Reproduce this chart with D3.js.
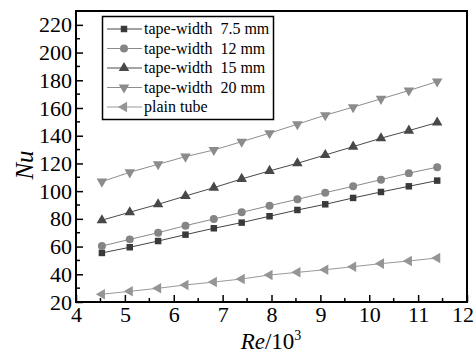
<!DOCTYPE html>
<html><head><meta charset="utf-8">
<script src="https://cdn.jsdelivr.net/npm/d3@7"></script>
<style>body{margin:0;background:#fff}svg{display:block}svg text{font-family:"Liberation Serif","DejaVu Serif",serif}</style>
</head><body>
<script>
const reValues = [4.53,5.10,5.68,6.24,6.82,7.39,7.96,8.53,9.10,9.67,10.24,10.81,11.39];
const seriesNames = ["tape-width  7.5 mm","tape-width  12 mm","tape-width  15 mm","tape-width  20 mm","plain tube"];
const nu75 = [55.4,59.5,64.0,68.6,73.2,77.3,81.9,86.4,90.5,95.1,99.4,103.5,107.6];
const nu12 = [60.4,65.2,70.0,75.1,79.9,84.7,89.5,94.1,98.9,103.5,108.3,113.0,117.3];
const nu15 = [79.0,84.8,90.5,96.5,102.5,108.8,114.6,120.1,126.1,132.1,138.2,143.7,149.5];
const nu20 = [106.9,113.6,119.4,124.9,129.7,135.7,141.8,148.3,154.8,160.6,166.6,172.6,179.1];
const nuPlain = [25.6,27.7,29.9,32.3,34.4,36.6,39.5,41.4,43.3,45.5,47.7,49.6,51.8];
const xTicks = [4,5,6,7,8,9,10,11,12];
const yTicks = [20,40,60,80,100,120,140,160,180,200,220];

const W=476,H=353;
const m={l:76,r:9,t:11,b:51};
const svg=d3.select("body").append("svg").attr("width",W).attr("height",H);
const x=d3.scaleLinear().domain([4,12]).range([m.l,W-m.r]);
const y=d3.scaleLinear().domain([20,230]).range([H-m.b,m.t]);

const styles=[
 {data:nu75,color:"#3a3a3a",line:"#444",sym:d3.symbolSquare,size:42,rot:0},
 {data:nu12,color:"#858585",line:"#8a8a8a",sym:d3.symbolCircle,size:50,rot:0},
 {data:nu15,color:"#484848",line:"#4a4a4a",sym:d3.symbolTriangle,size:48,rot:0},
 {data:nu20,color:"#8c8c8c",line:"#8e8e8e",sym:d3.symbolTriangle,size:48,rot:180},
 {data:nuPlain,color:"#959595",line:"#999",sym:d3.symbolTriangle,size:48,rot:-90}
];

const line=d3.line().x((d,i)=>x(reValues[i])).y(d=>y(d));
styles.forEach(s=>{
  svg.append("path").attr("d",line(s.data)).attr("fill","none").attr("stroke",s.line).attr("stroke-width",1);
  svg.append("g").selectAll("path").data(s.data).join("path")
    .attr("d",d3.symbol().type(s.sym).size(s.size))
    .attr("transform",(d,i)=>`translate(${x(reValues[i])},${y(d)}) rotate(${s.rot})`)
    .attr("fill",s.color);
});

// frame
svg.append("rect").attr("x",m.l).attr("y",m.t).attr("width",W-m.r-m.l).attr("height",H-m.b-m.t)
  .attr("fill","none").attr("stroke","#000").attr("stroke-width",2);

// x axis
const xAxis=svg.append("g").attr("transform",`translate(0,${H-m.b})`)
  .call(d3.axisBottom(x).tickValues(xTicks).tickSizeInner(-7).tickSizeOuter(0).tickPadding(4).tickFormat(d3.format("d")));
xAxis.select(".domain").remove();
xAxis.selectAll("line").attr("stroke","#000").attr("stroke-width",1.5);
xAxis.selectAll("text").attr("font-size",22).attr("fill","#000")
  .attr("text-anchor",d=>d===12?"end":"middle").attr("dx",d=>d===12?"0.3em":null);
xAxis.selectAll(".minor").data(xTicks.slice(0,-1).map(v=>v+0.5)).join("line")
  .attr("x1",d=>x(d)).attr("x2",d=>x(d)).attr("y1",0).attr("y2",-4).attr("stroke","#000").attr("stroke-width",1.5);

// y axis
const yAxis=svg.append("g").attr("transform",`translate(${m.l},0)`)
  .call(d3.axisLeft(y).tickValues(yTicks).tickSizeInner(-7).tickSizeOuter(0).tickPadding(4).tickFormat(d3.format("d")));
yAxis.select(".domain").remove();
yAxis.selectAll("line").attr("stroke","#000").attr("stroke-width",1.5);
yAxis.selectAll("text").attr("font-size",22).attr("fill","#000");
yAxis.selectAll(".minor").data(yTicks.map(v=>v+10)).join("line")
  .attr("y1",d=>y(d)).attr("y2",d=>y(d)).attr("x1",0).attr("x2",4).attr("stroke","#000").attr("stroke-width",1.5);
svg.selectAll("g").attr("font-family",null);

// axis titles
svg.append("text").attr("transform","translate(33,165) rotate(-90)").attr("text-anchor","middle")
  .attr("font-size",25).attr("font-style","italic").text("Nu");
const xt=svg.append("text").attr("x",271).attr("y",349).attr("text-anchor","middle")
  .attr("font-size",23);
xt.append("tspan").attr("font-style","italic").text("Re");
xt.append("tspan").text("/10");
xt.append("tspan").attr("font-size",14).attr("dy",-9).text("3");

// legend
const lg=svg.append("g");
lg.append("rect").attr("x",102.5).attr("y",16.5).attr("width",171).attr("height",103)
  .attr("fill","#fff").attr("stroke","#000").attr("stroke-width",1.5);
styles.forEach((s,i)=>{
  const yy=29+i*19.5;
  lg.append("line").attr("x1",107).attr("x2",142).attr("y1",yy).attr("y2",yy).attr("stroke",s.line).attr("stroke-width",1);
  lg.append("path").attr("d",d3.symbol().type(s.sym).size(s.size)()).attr("transform",`translate(124,${yy}) rotate(${s.rot})`).attr("fill",s.color);
  lg.append("text").attr("x",144).attr("y",yy+5).attr("font-size",16)
    .style("white-space","pre").text(seriesNames[i]);
});
</script>
</body></html>
